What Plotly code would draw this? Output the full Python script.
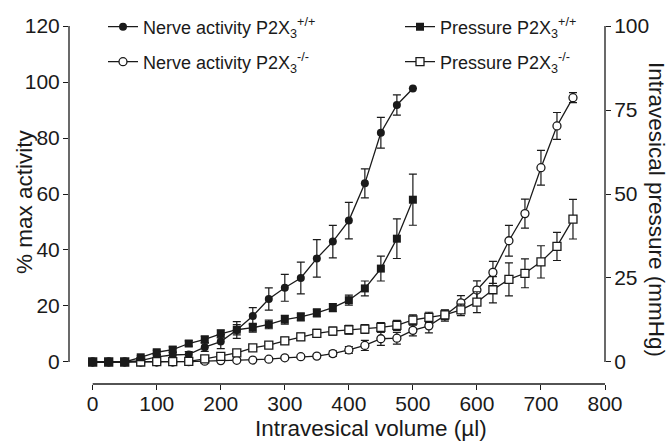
import plotly.graph_objects as go

# ---- data ----
volume_wt = [0, 25, 50, 75, 100, 125, 150, 175, 200, 225, 250, 275, 300, 325, 350,
             375, 400, 425, 450, 475, 500]
nerve_wt = [0, 0, 0, 0.5, 1.8, 2.5, 2.7, 5.3, 7.3, 11.4, 16.4, 22.5, 26.5, 30, 37,
            43, 50.5, 63.8, 81.9, 91.8, 97.7]
nerve_wt_err = [0, 0, 0, 0.3, 0.8, 1, 1, 1.5, 2.5, 3, 3, 4, 4.8, 5.7, 6.7,
                5.8, 6.5, 5.2, 5.5, 3.6, 0]
pressure_wt = [0, 0, 0, 1.4, 2.9, 3.7, 5.5, 6.7, 8.4, 9.6, 10.2, 11.2, 12.6, 13.4, 14.6,
               16.2, 18.4, 21.9, 27.8, 36.7, 48.3]
pressure_wt_err = [0, 0, 0, 0.4, 0.6, 0.8, 0.8, 1, 1.2, 1.5, 1.3, 1.3, 1.3, 1.2, 1.2,
                   1.2, 1.5, 2.2, 3.7, 5.9, 7.6]

volume_ko = [0, 25, 50, 75, 100, 125, 150, 175, 200, 225, 250, 275, 300, 325, 350,
             375, 400, 425, 450, 475, 500, 525, 550, 575, 600, 625, 650, 675, 700, 725, 750]
nerve_ko = [0, 0, 0, 0, 0, 0, 0.1, 0.3, 0.5, 0.6, 0.7, 1.0, 1.5, 1.9, 2.1,
            3.0, 4.3, 5.9, 8.3, 8.5, 11.3, 12.9, 16.6, 21.1, 25.7, 32, 43.3, 53, 69.4, 84.3, 94.4]
nerve_ko_err = [0, 0, 0, 0, 0, 0, 0, 0, 0, 0, 0, 0.4, 0.5, 0.6, 0.6,
                1, 1.2, 1.8, 2.4, 2.1, 2, 2.5, 2, 2.6, 3.3, 3.9, 5.5, 5.2, 6.2, 4.8, 1.8]
pressure_ko = [0, 0, 0, 0, 0.1, 0.1, 0.2, 0.9, 1.7, 2.7, 4.2, 5, 6.3, 7.5, 8.5,
               9.2, 9.6, 9.8, 10.3, 10.9, 12.5, 13.3, 14, 15.5, 17.8, 21.5, 24.6, 26.4, 29.8, 34.4, 42.5]
pressure_ko_err = [0, 0, 0, 0, 0, 0, 0, 0.3, 0.4, 0.5, 0.6, 0.8, 1, 1.1, 1.2,
                   1.2, 1.3, 1.3, 1.4, 1.5, 1.5, 1.5, 1.4, 1.7, 3.1, 3.9, 4.9, 4.3, 4.8, 4.2, 5.9]

x_ticks = [0, 100, 200, 300, 400, 500, 600, 700, 800]
y_ticks = [0, 20, 40, 60, 80, 100, 120]
y2_ticks = [0, 25, 50, 75, 100]

names = {
    "nwt": "Nerve activity P2X<sub>3</sub><sup>+/+</sup>",
    "nko": "Nerve activity P2X<sub>3</sub><sup>-/-</sup>",
    "pwt": "Pressure P2X<sub>3</sub><sup>+/+</sup>",
    "pko": "Pressure P2X<sub>3</sub><sup>-/-</sup>",
}

INK = "#1a1a1a"
FONT = "Arial, 'Liberation Sans', sans-serif"

# plot-area geometry in pixels
W, H = 670, 442
L, R, T, B = 69, 605, 26, 384


def px_x(p):
    return (p - L) / (R - L)


def px_y(p):
    return (B - p) / (B - T)


def err(arr):
    return dict(type="data", array=arr, visible=True, color=INK, thickness=1.2, width=4)


fig = go.Figure()

fig.add_trace(go.Scatter(
    x=volume_ko, y=pressure_ko, error_y=err(pressure_ko_err), yaxis="y2",
    mode="lines+markers", name=names["pko"], legend="legend4",
    line=dict(color=INK, width=1.3),
    marker=dict(symbol="square", size=8, color="white", line=dict(color=INK, width=1.3)),
))
fig.add_trace(go.Scatter(
    x=volume_ko, y=nerve_ko, error_y=err(nerve_ko_err),
    mode="lines+markers", name=names["nko"], legend="legend2",
    line=dict(color=INK, width=1.3),
    marker=dict(symbol="circle", size=8, color="white", line=dict(color=INK, width=1.3)),
))
fig.add_trace(go.Scatter(
    x=volume_wt, y=pressure_wt, error_y=err(pressure_wt_err), yaxis="y2",
    mode="lines+markers", name=names["pwt"], legend="legend3",
    line=dict(color=INK, width=1.3),
    marker=dict(symbol="square", size=8, color=INK, line=dict(color=INK, width=0)),
))
fig.add_trace(go.Scatter(
    x=volume_wt, y=nerve_wt, error_y=err(nerve_wt_err),
    mode="lines+markers", name=names["nwt"], legend="legend",
    line=dict(color=INK, width=1.3),
    marker=dict(symbol="circle", size=8, color=INK, line=dict(color=INK, width=0)),
))

leg_common = dict(font=dict(family=FONT, size=18, color=INK), bgcolor="rgba(0,0,0,0)",
                  xanchor="left", yanchor="middle", borderwidth=0, itemwidth=30)
col1_x, col2_x = px_x(103), px_x(400)
row1_y, row2_y = px_y(27), px_y(62)

axis_font = dict(family=FONT, size=21, color=INK)
title_font = dict(family=FONT, size=22.5, color=INK)

fig.update_layout(
    width=W, height=H,
    margin=dict(l=L, r=W - R, t=T, b=H - B, pad=0, autoexpand=False),
    paper_bgcolor="white", plot_bgcolor="white",
    showlegend=True,
    legend=dict(x=col1_x, y=row1_y, **leg_common),
    legend2=dict(x=col1_x, y=row2_y, **leg_common),
    legend3=dict(x=col2_x, y=row1_y, **leg_common),
    legend4=dict(x=col2_x, y=row2_y, **leg_common),
    xaxis=dict(range=[-37, 800], tickvals=x_ticks, ticks="outside", ticklen=5,
               tickwidth=1.3, tickcolor=INK, showgrid=False, zeroline=False,
               showline=False, tickfont=axis_font, ticklabelstandoff=-4, automargin=False),
    yaxis=dict(range=[-7.86, 120], tickvals=y_ticks, ticks="outside", ticklen=5,
               tickwidth=1.3, tickcolor=INK, showgrid=False, zeroline=False,
               showline=False, tickfont=axis_font, ticklabelstandoff=-1, automargin=False),
    yaxis2=dict(range=[-6.55, 100], tickvals=y2_ticks, ticks="outside", ticklen=5,
                tickwidth=1.3, tickcolor=INK, showgrid=False, zeroline=False,
                showline=False, tickfont=axis_font, overlaying="y", side="right",
                ticklabelstandoff=-1, automargin=False),
    shapes=[
        dict(type="line", xref="paper", yref="y", x0=0, x1=0, y0=0, y1=120,
             line=dict(color=INK, width=1.3)),
        dict(type="line", xref="x", yref="paper", x0=0, x1=800, y0=0, y1=0,
             line=dict(color=INK, width=1.3)),
        dict(type="line", xref="paper", yref="y2", x0=1, x1=1, y0=0, y1=100,
             line=dict(color=INK, width=1.3)),
    ],
    annotations=[
        dict(text="% max activity", xref="paper", yref="paper",
             x=px_x(24), y=px_y(202),
             textangle=-90, showarrow=False, font=title_font,
             xanchor="center", yanchor="middle"),
        dict(text="Intravesical pressure (mmHg)", xref="paper", yref="paper",
             x=px_x(657), y=px_y(209), textangle=90, showarrow=False,
             font=title_font, xanchor="center", yanchor="middle"),
        dict(text="Intravesical volume (µl)", xref="paper", yref="paper",
             x=px_x(371), y=px_y(428), showarrow=False,
             font=title_font, xanchor="center", yanchor="middle"),
    ],
)

fig.write_html("out.html")
